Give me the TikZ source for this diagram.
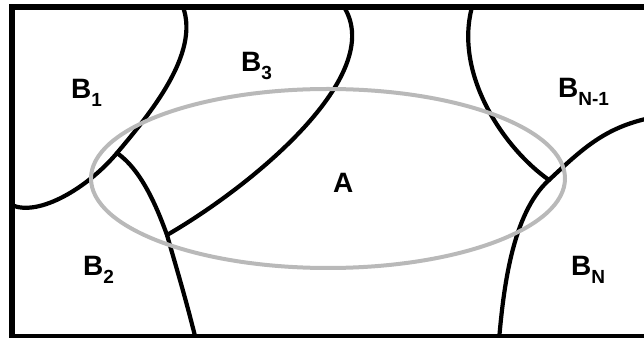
\documentclass[tikz,border=0pt]{standalone}
\usepackage{fontspec}
\setmainfont{Liberation Sans}
\usepackage{xcolor}
\usepackage{tikz}
\usetikzlibrary{calc}
\definecolor{EllGray}{RGB}{185,185,185}
\newcommand{\Bsub}[1]{B\raisebox{-8pt}{\fontsize{19}{19}\selectfont #1}}

\begin{document}
\begin{tikzpicture}[x=1pt,y=1pt,
  bnd/.style={line width=4.2pt,line cap=round,black},
  frame/.style={line width=6pt,black},
  lbl/.style={font=\fontsize{28}{28}\selectfont\bfseries,anchor=base west,inner sep=0pt}]
\useasboundingbox(0,0)rectangle(644,337);
\clip(0,0)rectangle(644,337);
\draw[frame](11.5,0)rectangle(660,330);
\coordinate(t1)at(183,330);
\coordinate(j1)at(117,184);
\coordinate(l1)at(11.5,132);
\coordinate(j2)at(167,102);
\coordinate(b2)at(196,-3);
\coordinate(t3)at(344,330);
\coordinate(t4)at(472,330);
\coordinate(j3)at(549,157);
\coordinate(r5)at(650,219);
\coordinate(b6)at(499,-3);
\draw[bnd](t1)..controls +(-70:50) and +(50:50)..(j1)..controls +(230:45) and +(-24:30)..(l1);
\draw[bnd](j1)..controls +(-35:30) and +(110:30)..(j2)to[out=-74,in=104](b2);
\draw[bnd](j2)..controls +(30:100) and +(-58:80)..(t3);
\draw[bnd](t4)..controls +(-105:70) and +(145:55)..(j3);
\draw[bnd](j3)to[out=43,in=192](r5);
\draw[bnd](j3)..controls +(222:50) and +(85:50)..(b6);
\draw[EllGray,line width=4pt](328,158.5)ellipse[x radius=237,y radius=89.5];
\foreach \n/\x/\y/\t in {
  b1/71/238/{\Bsub{1}},
  b3/241/265/{\Bsub{3}},
  b2/83/62/{\Bsub{2}},
  a/333/144/{A},
  bn1/558/239/{\Bsub{N-1}},
  bn/571/61/{\Bsub{N}}
}{
  \node[lbl](\n)at(\x,\y){\t};
}
\end{tikzpicture}
\end{document}
